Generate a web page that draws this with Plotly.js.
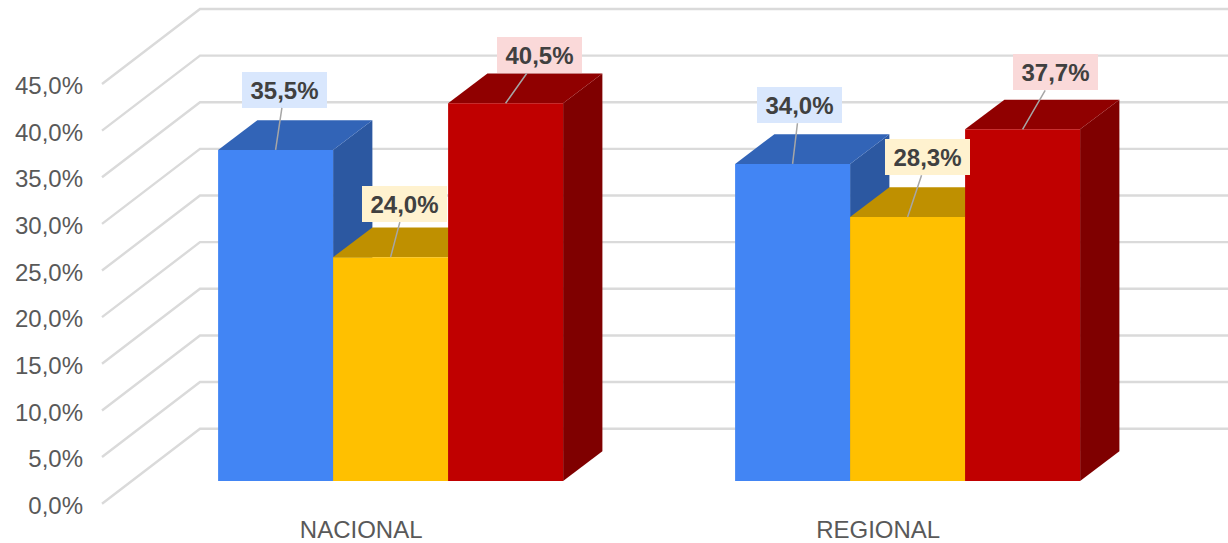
<!DOCTYPE html>
<html>
<head>
<meta charset="utf-8">
<script src="https://cdn.plot.ly/plotly-3.0.1.min.js"></script>
<style>html,body{margin:0;padding:0;background:#fff;overflow:hidden}#chart{width:1228px;height:543px}</style>
</head>
<body>
<div id="chart"></div>
<script>
// ---- data ----
const categories = ['NACIONAL', 'REGIONAL'];
const seriesBlue = [35.5, 34.0];
const seriesYellow = [24.0, 28.3];
const seriesRed = [40.5, 37.7];
const axisTicks = [0, 5, 10, 15, 20, 25, 30, 35, 40, 45];

// ---- styles ----
const faceColors = [
  {front: '#4285F4', top: '#3264B7', side: '#2C58A1', label: '#D9E7FD'},
  {front: '#FFC000', top: '#BF9000', side: '#A98000', label: '#FFF2CF'},
  {front: '#C00000', top: '#900000', side: '#7F0000', label: '#FAD9D9'}
];
const labelOffsets = [
  [[9, -60], [7, -58.6]],
  [[14, -53], [20, -59.7]],
  [[34, -48], [33, -57]]
];
const FONT = '"Liberation Sans", Arial, sans-serif';

// ---- geometry of the pseudo-3D frame ----
const W = 1228, H = 543, mL = 84, mB = 30;
const pxPerGroup = 517, group0Px = 390.6, barSpanPx = 345, catLabelShiftPx = -29.4;
const pxPerPct = 9.327, axisZeroPx = 505.5, wallZeroPx = 503.7, barZeroPx = 481;
const pxX = p => (p - group0Px) / pxPerGroup;     // px to x units
const span = barSpanPx / pxPerGroup;
const barW = span / 3;
const barDX = 39.3 / pxPerGroup, barDY = 29.7 / pxPerPct;
const rise = (axisZeroPx - barZeroPx) / pxPerPct;   // bar floor in the axis frame
const wallRise = (axisZeroPx - wallZeroPx) / pxPerPct; // diagonal ends in the axis frame
const wallX0 = pxX(102), wallX1 = pxX(200), wallXEnd = pxX(W);
const wallDY = (wallZeroPx - 428.7) / pxPerPct;
const plotBottomPx = H - mB;
const xRange = [pxX(mL), pxX(W)];
const yRange = [(axisZeroPx - plotBottomPx) / pxPerPct, axisZeroPx / pxPerPct];
const y2Range = [(barZeroPx - plotBottomPx) / pxPerPct, barZeroPx / pxPerPct];

const series = [seriesBlue, seriesYellow, seriesRed];
const traces = [];

// wall grid lines
const gx = [], gy = [];
axisTicks.forEach(t => {
  gx.push(wallX0, wallX1, wallXEnd, null);
  gy.push(t + wallRise, t + wallRise + wallDY, t + wallRise + wallDY, null);
});
traces.push({type: 'scatter', mode: 'lines', x: gx, y: gy, xaxis: 'x', yaxis: 'y',
  line: {color: '#DADADA', width: 2.4}, hoverinfo: 'skip', showlegend: false});

// side and top faces, from the values
series.forEach((vals, s) => {
  vals.forEach((v, g) => {
    const x0 = g - span / 2 + s * barW, x1 = x0 + barW;
    const v0 = rise, v1 = v + rise;
    traces.push({type: 'scatter', mode: 'lines', fill: 'toself', fillcolor: faceColors[s].side,
      x: [x1, x1 + barDX, x1 + barDX, x1, x1],
      y: [v0, v0 + barDY, v1 + barDY, v1, v0],
      xaxis: 'x', yaxis: 'y', line: {width: 0, color: faceColors[s].side},
      hoverinfo: 'skip', showlegend: false});
    traces.push({type: 'scatter', mode: 'lines', fill: 'toself', fillcolor: faceColors[s].top,
      x: [x0, x1, x1 + barDX, x0 + barDX, x0],
      y: [v1, v1, v1 + barDY, v1 + barDY, v1],
      xaxis: 'x', yaxis: 'y', line: {width: 0, color: faceColors[s].top},
      hoverinfo: 'skip', showlegend: false});
  });
});

// front faces: real bars on the overlaying axes
series.forEach((vals, s) => {
  traces.push({type: 'bar', x: categories.map((_, g) => g), y: vals, xaxis: 'x2', yaxis: 'y2',
    marker: {color: faceColors[s].front, line: {width: 0}}, hoverinfo: 'skip', showlegend: false});
});

// data labels
const annotations = [];
series.forEach((vals, s) => {
  vals.forEach((v, g) => {
    annotations.push({
      xref: 'x2', yref: 'y2', x: g - span / 2 + (s + 0.5) * barW, y: v,
      axref: 'pixel', ayref: 'pixel', ax: labelOffsets[s][g][0], ay: labelOffsets[s][g][1],
      text: '<b>' + v.toFixed(1).replace('.', ',') + '%</b>',
      showarrow: true, arrowhead: 0, arrowwidth: 1.5, arrowcolor: '#A6A6A6', standoff: 0,
      bgcolor: faceColors[s].label, borderpad: 0, borderwidth: 0, width: 85, height: 36,
      align: 'center', valign: 'middle',
      font: {family: FONT, size: 24, color: '#404040'}
    });
  });
});

const layout = {
  width: W, height: H,
  margin: {l: mL, r: 0, t: 0, b: mB, pad: 0},
  paper_bgcolor: '#fff', plot_bgcolor: 'rgba(0,0,0,0)',
  barmode: 'group', bargap: 1 - span, bargroupgap: 0,
  showlegend: false,
  xaxis: {type: 'linear', range: xRange, tickmode: 'array',
    tickvals: categories.map((_, g) => g + catLabelShiftPx / pxPerGroup),
    ticktext: categories, showgrid: false, zeroline: false, showline: false, ticks: '',
    tickfont: {family: FONT, size: 24, color: '#595959'}, fixedrange: true},
  yaxis: {type: 'linear', range: yRange, tickmode: 'array', tickvals: axisTicks,
    ticktext: axisTicks.map(t => t.toFixed(1).replace('.', ',') + '%'),
    showgrid: false, zeroline: false, showline: false, ticks: '',
    tickfont: {family: FONT, size: 24, color: '#595959'}, fixedrange: true},
  xaxis2: {type: 'linear', overlaying: 'x', range: xRange, visible: false, fixedrange: true},
  yaxis2: {type: 'linear', overlaying: 'y', range: y2Range, visible: false, fixedrange: true},
  annotations: annotations
};

Plotly.newPlot('chart', traces, layout, {displayModeBar: false, staticPlot: true});
</script>
</body>
</html>
